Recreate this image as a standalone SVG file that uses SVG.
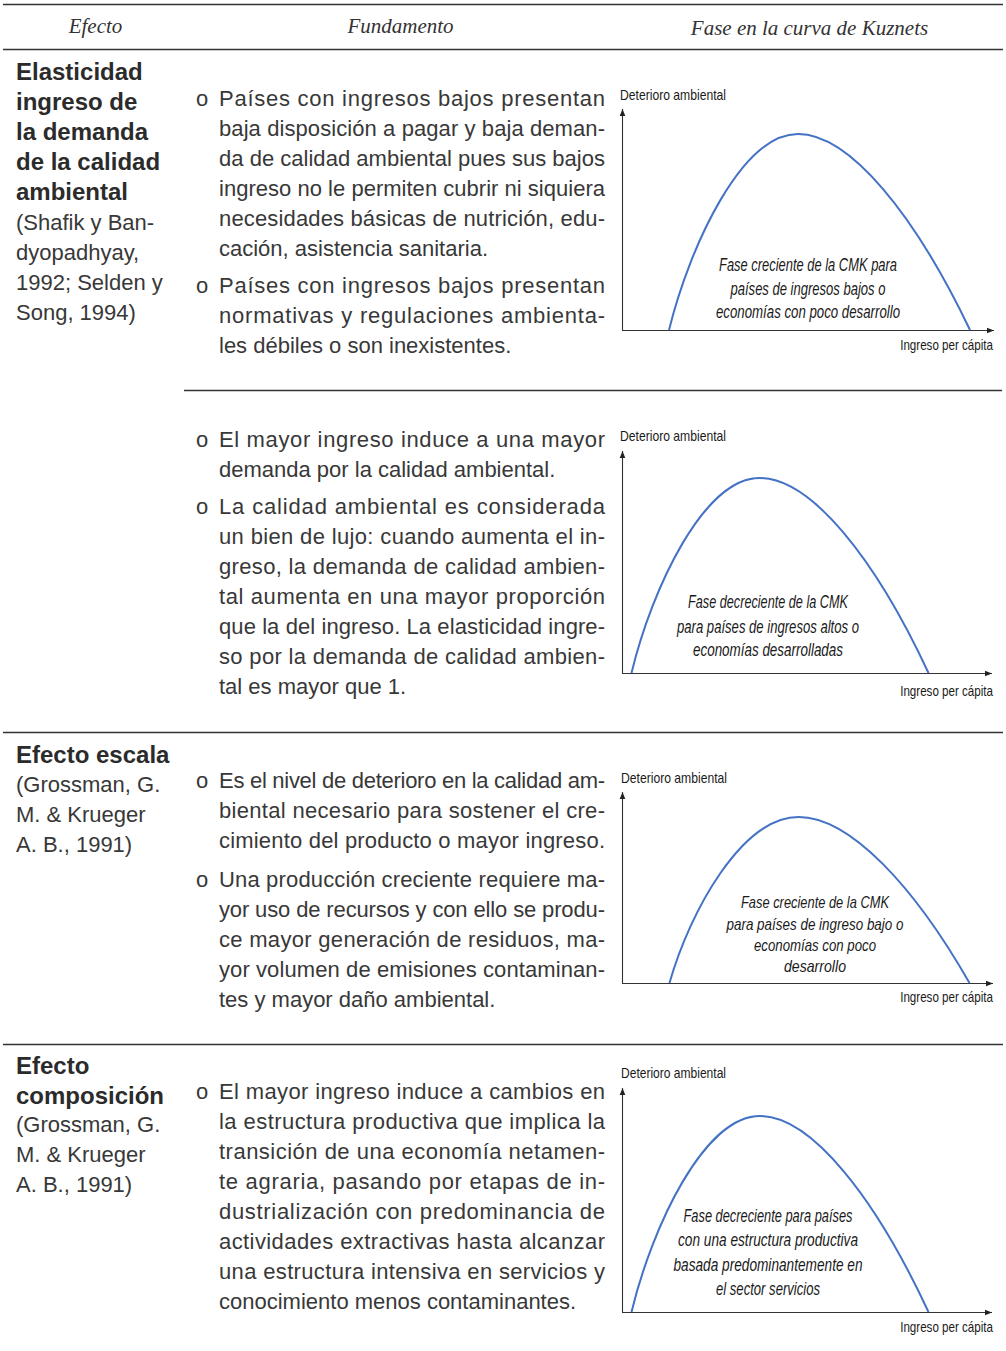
<svg xmlns="http://www.w3.org/2000/svg" width="1006" height="1351" viewBox="0 0 1006 1351">
  <style>
    .hd { font-family: "Liberation Serif", serif; font-style: italic; font-size: 21px; fill: #333; }
    .b  { font-family: "Liberation Sans", Arial, sans-serif; font-weight: bold; font-size: 24px; fill: #2b2b2b; }
    .t  { font-family: "Liberation Sans", Arial, sans-serif; font-size: 22px; fill: #383838; }
    .ax { font-family: "Liberation Sans", Arial, sans-serif; font-size: 14.5px; fill: #1a1a1a; }
    .xl { font-family: "Liberation Sans", Arial, sans-serif; font-size: 14.5px; fill: #1a1a1a; text-anchor: end; }
    .lb { font-family: "Liberation Sans", Arial, sans-serif; font-style: italic; font-size: 19px; fill: #1a1a1a; }
    .lb.s { font-size: 16.5px; }
    .rule { stroke: #333; stroke-width: 1.5; fill: none; }
    .axis { stroke: #333; stroke-width: 1.1; fill: none; marker-end: url(#tip); }
    .curve { stroke: #4472c4; stroke-width: 2; fill: none; }
  </style>
  <defs>
    <marker id="tip" markerUnits="userSpaceOnUse" markerWidth="8" markerHeight="8" viewBox="0 0 8 8" refX="7" refY="4" orient="auto">
      <path d="M0,1.2 L7,4 L0,6.8 Z" fill="#222"/>
    </marker>
  </defs>
  <rect width="1006" height="1351" fill="#fff"/>

  <!-- table rules -->
  <g id="rules">
    <line class="rule" x1="3" y1="4.5" x2="1003" y2="4.5" stroke-width="1.6"/>
    <line class="rule" x1="3" y1="49.5" x2="1003" y2="49.5" stroke="#555" stroke-width="2"/>
    <line class="rule" x1="184" y1="390.5" x2="1002" y2="390.5"/>
    <line class="rule" x1="3" y1="732.5" x2="1003" y2="732.5" stroke="#666"/>
    <line class="rule" x1="3" y1="1044.5" x2="1003" y2="1044.5"/>
  </g>

  <!-- column headings -->
  <g id="header">
    <text class="hd" x="95.5" y="33" text-anchor="middle">Efecto</text>
    <text class="hd" x="400.5" y="33" text-anchor="middle">Fundamento</text>
    <text class="hd" x="809.5" y="35" text-anchor="middle">Fase en la curva de Kuznets</text>
  </g>

  <!-- row 1: income elasticity of demand -->
  <g id="row-elasticidad">
    <text class="b" x="16" y="80">Elasticidad</text>
    <text class="b" x="16" y="110">ingreso de</text>
    <text class="b" x="16" y="140">la demanda</text>
    <text class="b" x="16" y="170">de la calidad</text>
    <text class="b" x="16" y="200">ambiental</text>
    <text class="t" x="16" y="230">(Shafik y Ban-</text>
    <text class="t" x="16" y="260">dyopadhyay,</text>
    <text class="t" x="16" y="290">1992; Selden y</text>
    <text class="t" x="16" y="320">Song, 1994)</text>
  </g>
  <g id="fund-1a">
    <text class="t" x="196" y="106">o</text>
    <text class="t" x="219" y="106" textLength="386" lengthAdjust="spacing">Países con ingresos bajos presentan</text>
    <text class="t" x="219" y="136" textLength="386" lengthAdjust="spacing">baja disposición a pagar y baja deman-</text>
    <text class="t" x="219" y="166" textLength="386" lengthAdjust="spacing">da de calidad ambiental pues sus bajos</text>
    <text class="t" x="219" y="196" textLength="386" lengthAdjust="spacing">ingreso no le permiten cubrir ni siquiera</text>
    <text class="t" x="219" y="226" textLength="386" lengthAdjust="spacing">necesidades básicas de nutrición, edu-</text>
    <text class="t" x="219" y="256">cación, asistencia sanitaria.</text>
    <text class="t" x="196" y="293">o</text>
    <text class="t" x="219" y="293" textLength="386" lengthAdjust="spacing">Países con ingresos bajos presentan</text>
    <text class="t" x="219" y="323" textLength="386" lengthAdjust="spacing">normativas y regulaciones ambienta-</text>
    <text class="t" x="219" y="353">les débiles o son inexistentes.</text>
  </g>
  <g id="chart-1">
    <text class="ax" x="620" y="100" textLength="106" lengthAdjust="spacingAndGlyphs">Deterioro ambiental</text>
    <line class="axis" x1="622.5" y1="330.5" x2="622.5" y2="109"/>
    <line class="axis" x1="622" y1="330.5" x2="994" y2="330.5"/>
    <path class="curve" d="M669,330 C690,245 742,134 798,134 C850,134 915,215 970,330"/>
    <text class="lb" x="719" y="271" textLength="178" lengthAdjust="spacingAndGlyphs">Fase creciente de la CMK para</text>
    <text class="lb" x="730.5" y="295" textLength="155" lengthAdjust="spacingAndGlyphs">países de ingresos bajos o</text>
    <text class="lb" x="716" y="318" textLength="184" lengthAdjust="spacingAndGlyphs">economías con poco desarrollo</text>
    <text class="xl" transform="translate(993,350) scale(0.8,1)">Ingreso per cápita</text>
  </g>

  <!-- row 1b: higher income, higher demand for quality -->
  <g id="fund-1b">
    <text class="t" x="196" y="447">o</text>
    <text class="t" x="219" y="447" textLength="386" lengthAdjust="spacing">El mayor ingreso induce a una mayor</text>
    <text class="t" x="219" y="477">demanda por la calidad ambiental.</text>
    <text class="t" x="196" y="514">o</text>
    <text class="t" x="219" y="514" textLength="386" lengthAdjust="spacing">La calidad ambiental es considerada</text>
    <text class="t" x="219" y="544" textLength="386" lengthAdjust="spacing">un bien de lujo: cuando aumenta el in-</text>
    <text class="t" x="219" y="574" textLength="386" lengthAdjust="spacing">greso, la demanda de calidad ambien-</text>
    <text class="t" x="219" y="604" textLength="386" lengthAdjust="spacing">tal aumenta en una mayor proporción</text>
    <text class="t" x="219" y="634" textLength="386" lengthAdjust="spacing">que la del ingreso. La elasticidad ingre-</text>
    <text class="t" x="219" y="664" textLength="386" lengthAdjust="spacing">so por la demanda de calidad ambien-</text>
    <text class="t" x="219" y="694">tal es mayor que 1.</text>
  </g>
  <g id="chart-2">
    <text class="ax" x="620" y="441" textLength="106" lengthAdjust="spacingAndGlyphs">Deterioro ambiental</text>
    <line class="axis" x1="622.5" y1="673.5" x2="622.5" y2="451"/>
    <line class="axis" x1="622" y1="673.5" x2="992" y2="673.5"/>
    <path class="curve" d="M631.5,673 C652,588 704,478 759.5,478 C811,478 875,558 928.5,673"/>
    <text class="lb" x="688" y="608" textLength="160" lengthAdjust="spacingAndGlyphs">Fase decreciente de la CMK</text>
    <text class="lb" x="677" y="633" textLength="182" lengthAdjust="spacingAndGlyphs">para países de ingresos altos o</text>
    <text class="lb" x="693" y="656" textLength="150" lengthAdjust="spacingAndGlyphs">economías desarrolladas</text>
    <text class="xl" transform="translate(993,696) scale(0.8,1)">Ingreso per cápita</text>
  </g>

  <!-- row 2: scale effect -->
  <g id="row-escala">
    <text class="b" x="16" y="763">Efecto escala</text>
    <text class="t" x="16" y="792">(Grossman, G.</text>
    <text class="t" x="16" y="822">M. &amp; Krueger</text>
    <text class="t" x="16" y="852">A. B., 1991)</text>
  </g>
  <g id="fund-2">
    <text class="t" x="196" y="788">o</text>
    <text class="t" x="219" y="788" textLength="386" lengthAdjust="spacing">Es el nivel de deterioro en la calidad am-</text>
    <text class="t" x="219" y="818" textLength="386" lengthAdjust="spacing">biental necesario para sostener el cre-</text>
    <text class="t" x="219" y="848" textLength="386" lengthAdjust="spacing">cimiento del producto o mayor ingreso.</text>
    <text class="t" x="196" y="887">o</text>
    <text class="t" x="219" y="887" textLength="386" lengthAdjust="spacing">Una producción creciente requiere ma-</text>
    <text class="t" x="219" y="917" textLength="386" lengthAdjust="spacing">yor uso de recursos y con ello se produ-</text>
    <text class="t" x="219" y="947" textLength="386" lengthAdjust="spacing">ce mayor generación de residuos, ma-</text>
    <text class="t" x="219" y="977" textLength="386" lengthAdjust="spacing">yor volumen de emisiones contaminan-</text>
    <text class="t" x="219" y="1007">tes y mayor daño ambiental.</text>
  </g>
  <g id="chart-3">
    <text class="ax" x="621" y="783" textLength="106" lengthAdjust="spacingAndGlyphs">Deterioro ambiental</text>
    <line class="axis" x1="622.5" y1="983.5" x2="622.5" y2="792"/>
    <line class="axis" x1="622" y1="983.5" x2="993" y2="983.5"/>
    <path class="curve" d="M669.5,983 C690,911 742,817 798.5,817 C850,817 914,886 969.5,983"/>
    <text class="lb s" x="741" y="908" textLength="148" lengthAdjust="spacingAndGlyphs">Fase creciente de la CMK</text>
    <text class="lb s" x="726.5" y="930" textLength="177" lengthAdjust="spacingAndGlyphs">para países de ingreso bajo o</text>
    <text class="lb s" x="754" y="951" textLength="122" lengthAdjust="spacingAndGlyphs">economías con poco</text>
    <text class="lb s" x="784" y="972" textLength="62" lengthAdjust="spacingAndGlyphs">desarrollo</text>
    <text class="xl" transform="translate(993,1002) scale(0.8,1)">Ingreso per cápita</text>
  </g>

  <!-- row 3: composition effect -->
  <g id="row-composicion">
    <text class="b" x="16" y="1074">Efecto</text>
    <text class="b" x="16" y="1104">composición</text>
    <text class="t" x="16" y="1132">(Grossman, G.</text>
    <text class="t" x="16" y="1162">M. &amp; Krueger</text>
    <text class="t" x="16" y="1192">A. B., 1991)</text>
  </g>
  <g id="fund-3">
    <text class="t" x="196" y="1099">o</text>
    <text class="t" x="219" y="1099" textLength="386" lengthAdjust="spacing">El mayor ingreso induce a cambios en</text>
    <text class="t" x="219" y="1129" textLength="386" lengthAdjust="spacing">la estructura productiva que implica la</text>
    <text class="t" x="219" y="1159" textLength="386" lengthAdjust="spacing">transición de una economía netamen-</text>
    <text class="t" x="219" y="1189" textLength="386" lengthAdjust="spacing">te agraria, pasando por etapas de in-</text>
    <text class="t" x="219" y="1219" textLength="386" lengthAdjust="spacing">dustrialización con predominancia de</text>
    <text class="t" x="219" y="1249" textLength="386" lengthAdjust="spacing">actividades extractivas hasta alcanzar</text>
    <text class="t" x="219" y="1279" textLength="386" lengthAdjust="spacing">una estructura intensiva en servicios y</text>
    <text class="t" x="219" y="1309">conocimiento menos contaminantes.</text>
  </g>
  <g id="chart-4">
    <text class="ax" x="621" y="1078" textLength="105" lengthAdjust="spacingAndGlyphs">Deterioro ambiental</text>
    <line class="axis" x1="622.5" y1="1312.5" x2="622.5" y2="1088"/>
    <line class="axis" x1="622" y1="1312.5" x2="992" y2="1312.5"/>
    <path class="curve" d="M631.5,1312 C652,1227 704,1116 760,1116 C811,1116 875,1197 928.5,1312"/>
    <text class="lb" x="683.5" y="1222" textLength="169" lengthAdjust="spacingAndGlyphs">Fase decreciente para países</text>
    <text class="lb" x="678" y="1246" textLength="180" lengthAdjust="spacingAndGlyphs">con una estructura productiva</text>
    <text class="lb" x="673.5" y="1271" textLength="189" lengthAdjust="spacingAndGlyphs">basada predominantemente en</text>
    <text class="lb" x="716" y="1295" textLength="104" lengthAdjust="spacingAndGlyphs">el sector servicios</text>
    <text class="xl" transform="translate(993,1332) scale(0.8,1)">Ingreso per cápita</text>
  </g>
</svg>
